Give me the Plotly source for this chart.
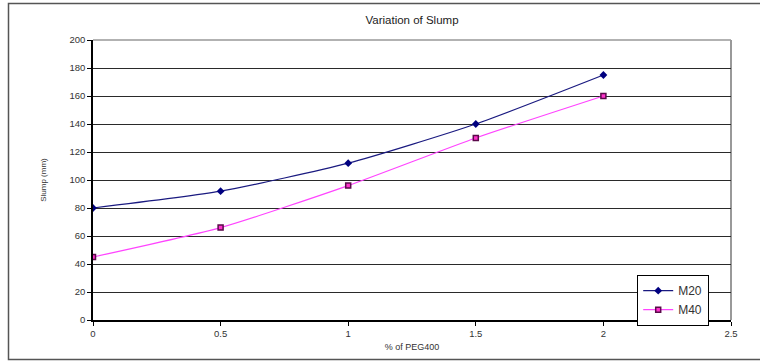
import plotly.graph_objects as go

peg = [0, 0.5, 1, 1.5, 2]
m20 = [80, 92, 112, 140, 175]
m40 = [45, 66, 96, 130, 160]
y_ticks = [0, 20, 40, 60, 80, 100, 120, 140, 160, 180, 200]
x_ticks = [0, 0.5, 1, 1.5, 2, 2.5]

font = "Liberation Sans, Arial, sans-serif"

fig = go.Figure()
fig.add_trace(go.Scatter(
    x=peg, y=m20, name="M20", mode="lines+markers",
    line=dict(color="#1a1a80", width=1.2, shape="spline", smoothing=0.6),
    marker=dict(symbol="diamond", size=6, color="#000080"),
))
fig.add_trace(go.Scatter(
    x=peg, y=m40, name="M40", mode="lines+markers",
    line=dict(color="#ff44ff", width=1.2, shape="spline", smoothing=0.6),
    marker=dict(symbol="square", size=5, color="#ff33cc",
                line=dict(color="#5a0a4a", width=1.5)),
))

W, H = 760, 362
L, R, T, B = 93, 29, 40, 42
pw, ph = W - L - R, H - T - B

def px(x):
    return (x - L) / pw

def py(y):
    return (H - B - y) / ph

fig.update_layout(
    width=W, height=H,
    margin=dict(l=L, r=R, t=T, b=B),
    paper_bgcolor="white", plot_bgcolor="white",
    font=dict(family=font, size=9.5, color="#333"),
    title=dict(text="Variation of Slump", x=0.5, xref="paper", xanchor="center",
               y=1 - 20 / H, yanchor="middle",
               font=dict(family=font, size=11.5, color="#222")),
    xaxis=dict(range=[0, 2.5], tickvals=x_ticks, ticktext=[str(v) for v in x_ticks],
               showgrid=False, zeroline=False, showline=True, linecolor="black",
               linewidth=1.5, ticks="outside", ticklen=4, tickcolor="black",
               title=dict(text="% of PEG400", font=dict(size=9), standoff=6)),
    yaxis=dict(range=[0, 200], tickvals=y_ticks, showgrid=True, gridcolor="#2a2a2a",
               gridwidth=1.3, zeroline=False, showline=True, linecolor="black",
               linewidth=1.5, ticks="outside", ticklen=4, tickcolor="black",
               title=dict(text="Slump (mm)", font=dict(size=8), standoff=22)),
    legend=dict(x=px(637), y=py(275), xanchor="left", yanchor="top",
                bgcolor="white", bordercolor="black", borderwidth=1.2,
                font=dict(size=12, color="#333"), tracegroupgap=0,
                itemwidth=30),
    showlegend=True,
    shapes=[
        dict(type="line", xref="paper", yref="paper", x0=0, x1=1, y0=1, y1=1,
             line=dict(color="#999", width=1.5), layer="below"),
        dict(type="line", xref="paper", yref="paper", x0=1, x1=1, y0=0, y1=1,
             line=dict(color="#999", width=2), layer="below"),
        dict(type="rect", xref="paper", yref="paper",
             x0=px(8.5), x1=px(761), y0=py(359.5), y1=py(3.5),
             line=dict(color="#555", width=1.5), fillcolor="rgba(0,0,0,0)"),
    ],
)

fig.write_html("out.html")
